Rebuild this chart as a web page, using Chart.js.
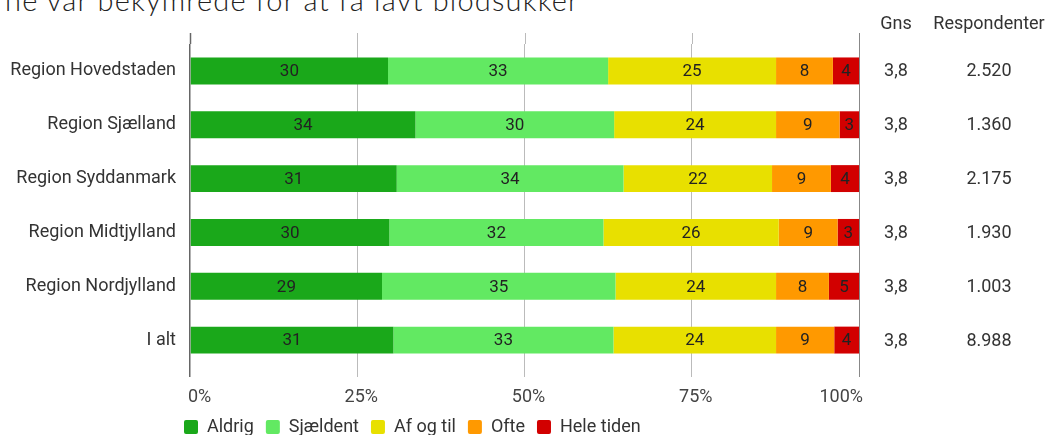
<!DOCTYPE html>
<html>
<head>
<meta charset="utf-8">
<script src="https://cdn.jsdelivr.net/npm/chart.js@4"></script>
<style>
  html, body { margin: 0; padding: 0; background: #fff; }
  #wrap { position: relative; width: 1046px; height: 435px; overflow: hidden; }
  #title { position: absolute; left: 5px; top: -15px; font-family: Lato, sans-serif; font-weight: 300;
           font-size: 29px; line-height: 29px; letter-spacing: 1.2px; color: #222; white-space: nowrap; }
  canvas { position: absolute; left: 0; top: 0; }
</style>
</head>
<body>
<div id="wrap">
  <div id="title">ne var bekymrede for at få lavt blodsukker</div>
  <canvas id="chart" width="1046" height="435"></canvas>
</div>
<script>
// regions
var regions = ['Region Hovedstaden', 'Region Sjælland', 'Region Syddanmark', 'Region Midtjylland', 'Region Nordjylland', 'I alt'];

// share in percent
var aldrig    = [29.6, 33.7, 30.9, 29.8, 28.7, 30.4];
var sjaeldent = [32.9, 29.7, 33.9, 32.0, 34.9, 32.9];
var afogtil   = [25.1, 24.2, 22.2, 26.2, 24.0, 24.3];
var ofte      = [8.5, 9.5, 8.8, 8.8, 7.9, 8.7];
var heletiden = [3.9, 2.9, 4.2, 3.2, 4.5, 3.7];

// labels printed in the bars
var aldrigLbl    = [30, 34, 31, 30, 29, 31];
var sjaeldentLbl = [33, 30, 34, 32, 35, 33];
var afogtilLbl   = [25, 24, 22, 26, 24, 24];
var ofteLbl      = [8, 9, 9, 9, 8, 9];
var heletidenLbl = [4, 3, 4, 3, 5, 4];

var gns = ['3,8', '3,8', '3,8', '3,8', '3,8', '3,8'];
var respondenter = ['2.520', '1.360', '2.175', '1.930', '1.003', '8.988'];

var xTicks = [0, 25, 50, 75, 100];

var FONT = 'Roboto, "Noto Sans", sans-serif';

// bar value labels
var barLabels = {
    id: 'barLabels',
    afterDatasetsDraw: function (chart) {
        var ctx = chart.ctx;
        ctx.save();
        ctx.font = '17px ' + FONT;
        ctx.fillStyle = '#222';
        ctx.textAlign = 'center';
        ctx.textBaseline = 'middle';
        chart.data.datasets.forEach(function (ds, i) {
            var meta = chart.getDatasetMeta(i);
            meta.data.forEach(function (bar, j) {
                var x = (bar.x + bar.base) / 2;
                ctx.fillText(String(ds.labels[j]), x, bar.y + 1);
            });
        });
        ctx.restore();
    }
};

// Gns / Respondenter columns, x tick labels, grid lines sticking out above the plot
var sideColumns = {
    id: 'sideColumns',
    beforeDatasetsDraw: function (chart) {
        var ctx = chart.ctx;
        var area = chart.chartArea;
        var xs = chart.scales.x;
        ctx.save();
        xTicks.forEach(function (v) {
            ctx.strokeStyle = v === 0 ? '#666' : (v === 100 ? '#888' : '#bbb');
            ctx.lineWidth = v === 0 ? 1.5 : 1;
            var x = Math.round(xs.getPixelForValue(v)) + 0.5;
            ctx.beginPath();
            ctx.moveTo(x, area.top - 11);
            ctx.lineTo(x, area.top);
            ctx.stroke();
        });
        ctx.restore();
    },
    afterDraw: function (chart) {
        var ctx = chart.ctx;
        var area = chart.chartArea;
        var ys = chart.scales.y;
        var xs = chart.scales.x;
        ctx.save();
        ctx.font = '18px ' + FONT;
        ctx.fillStyle = '#333';
        ctx.textBaseline = 'middle';
        ctx.textAlign = 'center';
        ctx.fillText('Gns', area.right + 37, area.top - 20);
        ctx.fillText('Respondenter', area.right + 130, area.top - 20);
        regions.forEach(function (r, i) {
            var y = ys.getPixelForValue(i);
            ctx.fillText(gns[i], area.right + 37, y + 1);
            ctx.fillText(respondenter[i], area.right + 130, y + 1);
        });
        // x tick labels: first starts at the axis, last ends at it
        ctx.fillStyle = '#444';
        xTicks.forEach(function (v, i) {
            var x = xs.getPixelForValue(v);
            if (i === 0) { ctx.textAlign = 'left'; x -= 2; }
            else if (i === xTicks.length - 1) { ctx.textAlign = 'right'; x += 4; }
            else { ctx.textAlign = 'center'; x += 4; }
            ctx.fillText(v + '%', x, area.bottom + 30);
        });
        ctx.restore();
    },
    afterLayout: function (chart) {
        if (chart.legend) {
            chart.legend.left = chart.chartArea.left - 18;
        }
    }
};

var ctx = document.getElementById('chart').getContext('2d');
var chart = new Chart(ctx, {
    type: 'bar',
    data: {
        labels: regions,
        datasets: [
            { label: 'Aldrig', data: aldrig, labels: aldrigLbl, backgroundColor: '#1aa81a' },
            { label: 'Sjældent', data: sjaeldent, labels: sjaeldentLbl, backgroundColor: '#62e962' },
            { label: 'Af og til', data: afogtil, labels: afogtilLbl, backgroundColor: '#e8e000' },
            { label: 'Ofte', data: ofte, labels: ofteLbl, backgroundColor: '#ff9900' },
            { label: 'Hele tiden', data: heletiden, labels: heletidenLbl, backgroundColor: '#d20000' }
        ]
    },
    options: {
        indexAxis: 'y',
        responsive: false,
        animation: false,
        barPercentage: 0.5,
        categoryPercentage: 1,
        layout: { padding: { top: 44, right: 187, left: 0, bottom: -11 } },
        scales: {
            x: {
                stacked: true,
                min: 0,
                max: 100,
                afterBuildTicks: function (scale) {
                    scale.ticks = xTicks.map(function (v) { return { value: v }; });
                },
                afterFit: function (scale) { scale.height = 39; },
                ticks: { display: false },
                grid: {
                    drawTicks: true,
                    tickLength: 10,
                    color: function (c) {
                        if (c.tick && c.tick.value === 0) return '#666';
                        if (c.tick && c.tick.value === 100) return '#888';
                        return '#bbb';
                    },
                    lineWidth: function (c) { return c.tick && c.tick.value === 0 ? 1.5 : 1; }
                },
                border: { display: false }
            },
            y: {
                stacked: true,
                afterFit: function (scale) { scale.width = 190; },
                ticks: {
                    font: { family: FONT, size: 18 },
                    color: '#333',
                    padding: 14
                },
                grid: { display: false, drawTicks: false },
                border: { display: false }
            }
        },
        plugins: {
            legend: {
                position: 'bottom',
                align: 'start',
                labels: {
                    font: { family: FONT, size: 18 },
                    color: '#333',
                    boxWidth: 14,
                    boxHeight: 14,
                    useBorderRadius: true,
                    borderRadius: 2,
                    padding: 12
                }
            },
            tooltip: { enabled: false }
        }
    },
    plugins: [barLabels, sideColumns]
});
</script>
</body>
</html>
